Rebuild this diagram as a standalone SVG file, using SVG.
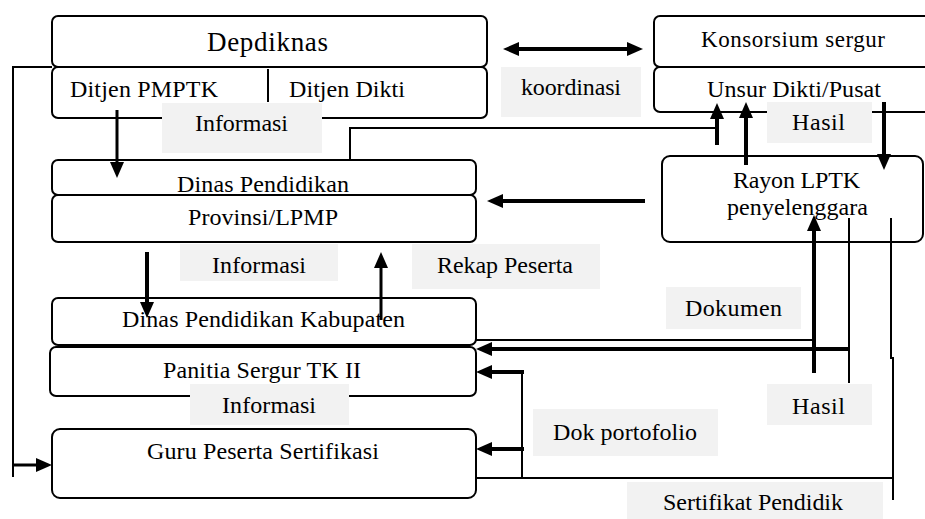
<svg xmlns="http://www.w3.org/2000/svg" width="925" height="519" viewBox="0 0 925 519">
<style>
.box{fill:#fff;stroke:#000;stroke-width:2}
.lbl{fill:#f2f2f2;stroke:none}
.t{font-family:"Liberation Serif","Times New Roman",serif;font-size:24px;fill:#000}
.big{font-size:27px}
.k{font-size:23px}
.thin{fill:none;stroke:#000;stroke-width:2}
.thick{fill:none;stroke:#000;stroke-width:4}
.mid{fill:none;stroke:#000;stroke-width:3}
</style>
<defs>
<marker id="ah" markerUnits="userSpaceOnUse" markerWidth="16" markerHeight="16" viewBox="0 0 16 16" refX="2" refY="8" orient="auto-start-reverse">
<path d="M0,1 L16,8 L0,15 z" fill="#000"/>
</marker>
</defs>
<rect width="925" height="519" fill="#fff"/>

<g id="depdiknas">
<rect class="box" x="52" y="16" width="435" height="51" rx="6"/>
<rect class="box" x="52" y="67" width="435" height="51" rx="6"/>
<line class="thin" x1="268" y1="69" x2="268" y2="102"/>
<text class="t big" x="207" y="51" textLength="121" lengthAdjust="spacing">Depdiknas</text>
<text class="t" x="70" y="97" textLength="148" lengthAdjust="spacing">Ditjen PMPTK</text>
<text class="t" x="289" y="97" textLength="116" lengthAdjust="spacing">Ditjen Dikti</text>
</g>

<g id="konsorsium">
<rect class="box" x="654" y="16" width="290" height="51" rx="6"/>
<rect class="box" x="654" y="67" width="290" height="45" rx="6"/>
<text class="t k" x="701" y="47" textLength="184" lengthAdjust="spacing">Konsorsium sergur</text>
<text class="t" x="707" y="97" textLength="174" lengthAdjust="spacing">Unsur Dikti/Pusat</text>
</g>

<g id="rayon">
<rect class="box" x="662" y="156" width="261" height="86" rx="8"/>
<text class="t" x="733" y="188" textLength="127" lengthAdjust="spacing">Rayon LPTK</text>
<text class="t" x="727" y="215" textLength="141" lengthAdjust="spacing">penyelenggara</text>
</g>

<g id="dinas-provinsi">
<rect class="box" x="52" y="160" width="424" height="35" rx="6"/>
<rect class="box" x="52" y="195" width="424" height="47" rx="6"/>
<text class="t" x="177" y="192" textLength="172" lengthAdjust="spacing">Dinas Pendidikan</text>
<text class="t" x="188" y="225" textLength="150" lengthAdjust="spacing">Provinsi/LPMP</text>
</g>

<g id="dinas-kabupaten">
<rect class="box" x="52" y="298" width="424" height="47" rx="6"/>
<text class="t" x="122" y="327" textLength="283" lengthAdjust="spacing">Dinas Pendidikan Kabupaten</text>
</g>

<g id="panitia">
<rect class="box" x="50" y="347" width="426" height="49" rx="6"/>
<text class="t" x="163" y="378" textLength="198" lengthAdjust="spacing">Panitia Sergur TK II</text>
</g>

<g id="guru">
<rect class="box" x="52" y="429" width="424" height="69" rx="8"/>
<text class="t" x="147" y="459" textLength="232" lengthAdjust="spacing">Guru Peserta Sertifikasi</text>
</g>

<g id="connectors">
<polyline class="thin" points="52,67 13,67 13,477"/>
<line class="mid" x1="13" y1="465" x2="38" y2="465" marker-end="url(#ah)"/>
<line class="mid" x1="117" y1="110" x2="117" y2="164" marker-end="url(#ah)"/>
<polyline class="thin" points="350,160 350,128 717,128"/>
<line class="thick" x1="717" y1="145" x2="717" y2="117" marker-end="url(#ah)"/>
<line class="thick" x1="746" y1="165" x2="746" y2="116" marker-end="url(#ah)"/>
<line class="thick" x1="884" y1="102" x2="884" y2="156" marker-end="url(#ah)"/>
<line class="thick" x1="517" y1="49" x2="629" y2="49" marker-start="url(#ah)" marker-end="url(#ah)"/>
<line class="thick" x1="645" y1="201" x2="501" y2="201" marker-end="url(#ah)"/>
<line class="thick" x1="147" y1="252" x2="147" y2="304" marker-end="url(#ah)"/>
<line class="mid" x1="381" y1="320" x2="381" y2="266" marker-end="url(#ah)"/>
<line class="thin" x1="476" y1="340" x2="814" y2="340"/>
<line class="thick" x1="849" y1="349" x2="490" y2="349" marker-end="url(#ah)"/>
<line class="thin" x1="849" y1="218" x2="849" y2="383"/>
<line class="thick" x1="814" y1="373" x2="814" y2="229" marker-end="url(#ah)"/>
<polyline class="thin" points="891,218 891,358 893,358 893,500"/>
<line class="thin" x1="476" y1="478" x2="893" y2="478"/>
<line class="thin" x1="522" y1="372" x2="522" y2="478"/>
<line class="thick" x1="524" y1="372" x2="490" y2="372" marker-end="url(#ah)"/>
<line class="thick" x1="524" y1="449" x2="490" y2="449" marker-end="url(#ah)"/>
</g>

<g id="label-informasi-1">
<rect class="lbl" x="162" y="103" width="160" height="50"/>
<text class="t" x="195" y="131" textLength="93" lengthAdjust="spacing">Informasi</text>
</g>
<g id="label-koordinasi">
<rect class="lbl" x="501" y="67" width="140" height="50"/>
<text class="t" x="521" y="95" textLength="100" lengthAdjust="spacing">koordinasi</text>
</g>
<g id="label-hasil-1">
<rect class="lbl" x="767" y="102" width="105" height="41"/>
<text class="t" x="792" y="130" textLength="53" lengthAdjust="spacing">Hasil</text>
</g>
<g id="label-informasi-2">
<rect class="lbl" x="180" y="244" width="158" height="37"/>
<text class="t" x="212" y="273" textLength="94" lengthAdjust="spacing">Informasi</text>
</g>
<g id="label-rekap">
<rect class="lbl" x="412" y="244" width="188" height="45"/>
<text class="t" x="437" y="273" textLength="136" lengthAdjust="spacing">Rekap Peserta</text>
</g>
<g id="label-dokumen">
<rect class="lbl" x="666" y="287" width="135" height="42"/>
<text class="t" x="685" y="316" textLength="97" lengthAdjust="spacing">Dokumen</text>
</g>
<g id="label-hasil-2">
<rect class="lbl" x="767" y="384" width="105" height="41"/>
<text class="t" x="792" y="414" textLength="53" lengthAdjust="spacing">Hasil</text>
</g>
<g id="label-informasi-3">
<rect class="lbl" x="190" y="384" width="159" height="41"/>
<text class="t" x="222" y="413" textLength="94" lengthAdjust="spacing">Informasi</text>
</g>
<g id="label-dok-portofolio">
<rect class="lbl" x="533" y="409" width="185" height="47"/>
<text class="t" x="553" y="440" textLength="144" lengthAdjust="spacing">Dok portofolio</text>
</g>
<g id="label-sertifikat">
<rect class="lbl" x="627" y="482" width="256" height="37"/>
<text class="t" x="663" y="510" textLength="180" lengthAdjust="spacing">Sertifikat Pendidik</text>
</g>
</svg>
